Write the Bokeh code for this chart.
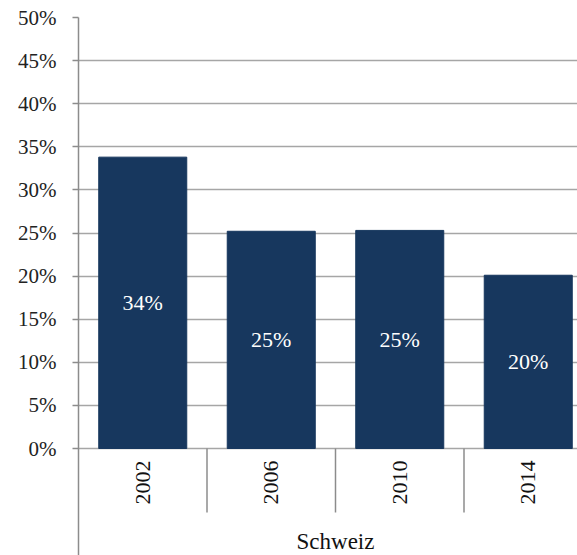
from bokeh.plotting import figure
from bokeh.models import ColumnDataSource, FixedTicker, PrintfTickFormatter, Range1d
from bokeh.core.properties import value
from bokeh.embed import file_html
from bokeh.resources import INLINE

years = ["2002", "2006", "2010", "2014"]
shares = [33.8, 25.2, 25.3, 20.1]
bar_labels = ["34%", "25%", "25%", "20%"]
group_label = "Schweiz"
y_ticks = [0, 5, 10, 15, 20, 25, 30, 35, 40, 45, 50]

FONT = "Times New Roman"
BAR = "#17375E"
GRID = "#A6A6A6"
AXIS = "#8C8C8C"

W, H = 577, 555
LEFT, TOP = 78, 17
ZERO_PX = 448                      # pixel row of 0 %
PX_PER_UNIT = (ZERO_PX - TOP) / 50.0
y_min = -(H - ZERO_PX) / PX_PER_UNIT
cat_px = 128.5
x_max = (W - LEFT) / cat_px

n = len(years)
xs = [i + 0.5 for i in range(n)]
src = ColumnDataSource(dict(x=xs, top=shares, mid=[v / 2 for v in shares],
                            lab=bar_labels, year=years))

p = figure(width=W, height=H, output_backend="svg", toolbar_location=None,
           x_range=Range1d(0, x_max), y_range=Range1d(y_min, 50),
           min_border_left=LEFT, min_border_right=0, min_border_top=TOP,
           min_border_bottom=0)
p.outline_line_color = None
p.background_fill_color = "white"
p.border_fill_color = "white"
p.xaxis.visible = False
p.xgrid.grid_line_color = None

p.vbar(x="x", top="top", width=0.685, bottom=0, source=src,
       fill_color=BAR, line_color=BAR)
p.text(x="x", y="mid", text="lab", source=src, text_color="white",
       text_font=value(FONT), text_font_size="22px",
       text_align="center", text_baseline="middle")

# category separators below the axis
bounds = list(range(1, n))
sep_len = 64 / PX_PER_UNIT
p.segment(x0=bounds, x1=bounds, y0=[0] * len(bounds), y1=[-sep_len] * len(bounds),
          line_color=AXIS, line_width=1.5)

# year labels (vertical) and group label
p.text(x="x", y=-34 / PX_PER_UNIT, text="year", source=src, angle=1.5707963,
       text_color="#111111", text_font=value(FONT), text_font_size="22px",
       text_align="center", text_baseline="middle")
p.text(x=[n / 2], y=[-93 / PX_PER_UNIT], text=[group_label],
       text_color="#111111", text_font=value(FONT), text_font_size="23px",
       text_align="center", text_baseline="middle")

# y axis
ya = p.yaxis[0]
ya.ticker = FixedTicker(ticks=y_ticks)
ya.formatter = PrintfTickFormatter(format="%d%%")
ya.major_label_text_font = FONT
ya.major_label_text_font_size = "21px"
ya.major_label_text_color = "#222222"
ya.major_label_standoff = 16
ya.major_tick_out = 6
ya.major_tick_in = 0
ya.minor_tick_out = 0
ya.minor_tick_in = 0
ya.axis_line_color = AXIS
ya.axis_line_width = 1.5
ya.major_tick_line_color = AXIS
ya.major_tick_line_width = 1.5

p.ygrid.ticker = FixedTicker(ticks=y_ticks)
p.ygrid.grid_line_color = GRID
p.ygrid.grid_line_width = 1.5

open("out.html", "w").write(file_html(p, INLINE))
